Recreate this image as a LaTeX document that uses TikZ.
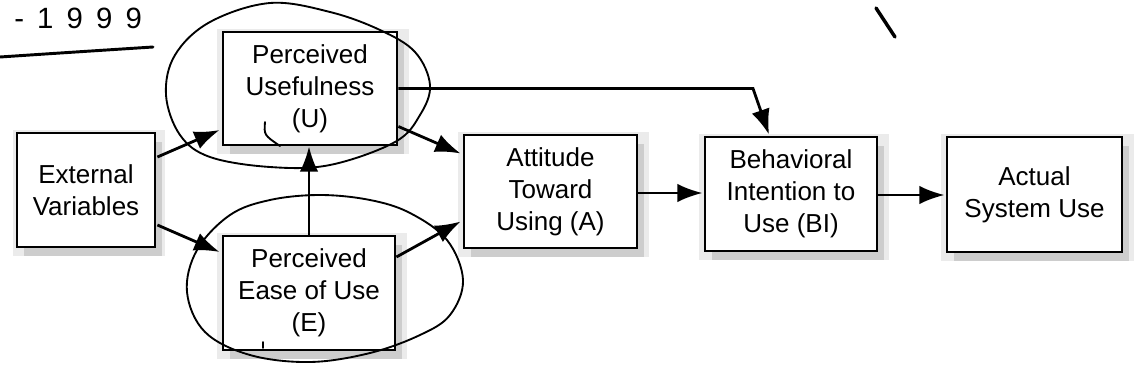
\documentclass[tikz,border=0pt]{standalone}
\usepackage{fontspec}
\setmainfont{Liberation Sans}
\usetikzlibrary{arrows.meta,shadows,calc}
\tikzset{
  box/.style={draw=black, line width=2.1pt, fill=white, inner sep=0pt, align=center,
    font=\fontsize{19.5}{24}\selectfont,
    drop shadow={shadow xshift=2pt, shadow yshift=-2pt, fill=gray!30, shadow scale=1.1},
    drop shadow={shadow xshift=5pt, shadow yshift=-7pt, fill=gray!62}},
  conn/.style={line width=2.1pt, -{Latex[length=19pt,width=14pt]}},
  hand/.style={line width=1.4pt, line cap=round, line join=round},
}
\begin{document}
\begin{tikzpicture}[x=0.75pt,y=-0.75pt]
\clip (0,0) rectangle (1137,389);
\fill[white] (0,0) rectangle (1137,389);

% boxes
\node[box, minimum width=103.5pt, minimum height=85.5pt] (EV) at (86,190) {External\\Variables};
\node[box, minimum width=130.5pt, minimum height=84.75pt] (PU) at (310,88.5) {Perceived\\Usefulness\\(U)};
\node[box, minimum width=129pt, minimum height=85.5pt] (PEU) at (309,293) {Perceived\\Ease of Use\\(E)};
\node[box, minimum width=129.75pt, minimum height=84.75pt] (A) at (550.5,191.5) {Attitude\\Toward\\Using (A)};
\node[box, minimum width=129pt, minimum height=85.5pt] (BI) at (791,194) {Behavioral\\Intention to\\Use (BI)};
\node[box, minimum width=131.25pt, minimum height=86.25pt] (ASU) at (1034.5,194.5) {Actual\\System Use};

% connectors
\draw[conn] ($(EV.east)+(1,-33)$) -- ($(PU.west)+(-2,41.5)$);
\draw[conn] ($(EV.east)+(1,35)$) -- ($(PEU.west)+(-2,-41)$);
\draw[conn] (PEU.north) -- (PEU.north |- PU.south);
\draw[conn] ($(PU.east)+(0,38)$) -- ($(A.west)+(-2,-38)$);
\draw[conn] ($(PEU.east)+(0,-36)$) -- ($(A.west)+(-2,30)$);
\coordinate (bend) at ($(BI.north)+(-38,-48)$);
\draw[conn] (PU.east) -- (PU.east -| bend) -- ($(BI.north)+(-22,-1)$);
\draw[conn] ($(A.east)+(0,1.5)$) -- ($(A.east -| BI.west)+(-1,1.5)$);
\draw[conn] ($(BI.east)+(0,1)$) -- ($(BI.east -| ASU.west)+(-1,1)$);

% handwritten annotations
\draw[hand] plot[smooth cycle, tension=0.6] coordinates {(270,3) (330,12) (380,30) (415,52) (430,85) (420,115) (395,142) (330,165) (270,167) (210,157) (180,135) (166,95) (175,55) (210,22)};
\draw[hand] plot[smooth cycle, tension=0.6] coordinates {(320,195) (370,200) (410,213) (447,240) (463,280) (450,315) (420,335) (370,353) (310,362) (250,355) (205,332) (187,292) (197,250) (230,215) (270,200)};
\draw[hand] (265,122) .. controls (264,135) .. (280,146);
\draw[hand] (263,342) -- (263,348);
\draw[hand, line width=2.2pt] (0,57) .. controls (60,53) .. (153,47);
\draw[hand, line width=2.6pt] (876,8) -- (895,37);
\node[anchor=base west, inner sep=0pt, font=\fontsize{22}{22}\selectfont\addfontfeature{LetterSpace=45}] (yr) at (14,28) {-1999};
\end{tikzpicture}
\end{document}
